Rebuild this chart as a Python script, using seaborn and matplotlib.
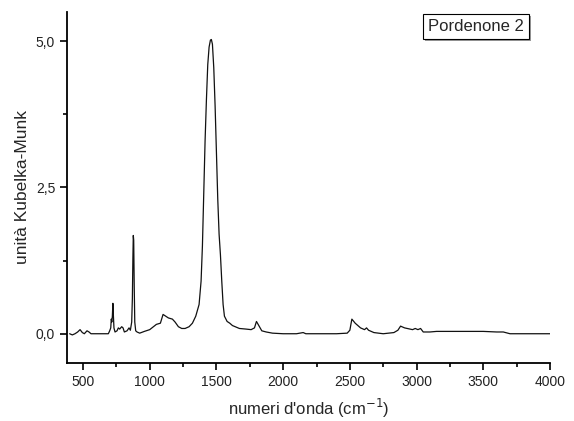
import pandas as pd
import matplotlib.pyplot as plt
import matplotlib.patheffects as pe
from matplotlib.ticker import MultipleLocator, FixedLocator, FixedFormatter
import seaborn as sns

# spectrum (wavenumber, Kubelka-Munk units)
wavenumber = [
    400, 420, 440, 460, 478, 495, 510, 530, 545, 560, 600, 650, 690,
    700, 708, 712, 716, 720, 724, 728, 732, 740, 755, 765, 775, 790, 800,
    810, 830, 845, 855, 865, 870, 874, 877, 880, 884, 888, 895, 905, 925,
    960, 1000, 1050, 1080, 1100, 1120, 1140, 1170, 1190, 1215, 1240, 1265,
    1295, 1320, 1345, 1370, 1385, 1395, 1405, 1415, 1425, 1435, 1445, 1455,
    1462, 1470, 1480, 1490, 1500, 1510, 1520, 1530, 1540, 1550, 1560, 1580,
    1600, 1620, 1672, 1720, 1760, 1785, 1800, 1815, 1840, 1873, 1920, 2000,
    2100, 2150, 2170, 2250, 2400, 2480, 2500, 2515, 2540, 2580, 2610, 2625,
    2640, 2680, 2750, 2830, 2860, 2880, 2910, 2950, 2970, 2990, 3010, 3030,
    3050, 3100, 3150, 3300, 3500, 3600, 3650, 3700, 3800, 4000,
]
intensity = [
    0.00, -0.02, 0.00, 0.03, 0.07, 0.02, 0.00, 0.05, 0.03, 0.00, 0.00, 0.00, 0.00,
    0.05, 0.10, 0.25, 0.20, 0.30, 0.52, 0.30, 0.10, 0.03, 0.05, 0.10, 0.08, 0.12, 0.10,
    0.03, 0.05, 0.10, 0.06, 0.20, 0.60, 1.30, 1.68, 1.60, 0.80, 0.20, 0.05, 0.03, 0.01,
    0.04, 0.07, 0.16, 0.18, 0.33, 0.30, 0.27, 0.25, 0.20, 0.12, 0.09, 0.09,
    0.12, 0.18, 0.30, 0.50, 0.90, 1.50, 2.40, 3.30, 4.00, 4.60, 4.90, 5.02,
    5.03, 4.95, 4.55, 3.90, 3.10, 2.30, 1.70, 1.35, 0.90, 0.50, 0.30, 0.21,
    0.18, 0.14, 0.09, 0.08, 0.07, 0.10, 0.21, 0.15, 0.05, 0.03, 0.01, 0.00,
    0.00, 0.02, 0.00, 0.00, 0.00, 0.01, 0.06, 0.25, 0.18, 0.10, 0.07, 0.10,
    0.06, 0.02, 0.00, 0.02, 0.06, 0.13, 0.10, 0.08, 0.07, 0.09, 0.07, 0.09,
    0.03, 0.03, 0.04, 0.04, 0.04, 0.03, 0.03, 0.00, 0.00, 0.00,
]
df = pd.DataFrame({'wn': wavenumber, 'km': intensity})

sns.set_style('white')
plt.rcParams['font.family'] = ['Liberation Sans', 'DejaVu Sans']

fig = plt.figure(figsize=(5.74, 4.21), dpi=100)
ax = fig.add_axes([0.1167, 0.1378, 0.8415, 0.8337])
sns.lineplot(data=df, x='wn', y='km', color='#111111', lw=0.9, ax=ax)

ax.set_xlim(380, 4000)
ax.set_ylim(-0.5, 5.5)
ax.xaxis.set_major_locator(MultipleLocator(500))
ax.xaxis.set_minor_locator(MultipleLocator(250))
ax.yaxis.set_major_locator(FixedLocator([0, 2.5, 5]))
ax.yaxis.set_major_formatter(FixedFormatter(['0,0', '2,5', '5,0']))
ax.yaxis.set_minor_locator(FixedLocator([1.25, 3.75]))
ax.tick_params(which='both', direction='out', color='black', labelsize=10,
               labelcolor='#222222', left=True, bottom=True)
ax.tick_params(which='major', length=5, width=1.2)
ax.tick_params(which='minor', length=3, width=1.2)

for s in ['top', 'right']:
    ax.spines[s].set_visible(False)
for s in ['left', 'bottom']:
    ax.spines[s].set_color('black')
    ax.spines[s].set_linewidth(1.3)

ax.set_xlabel("numeri d'onda (cm$^{-1}$)", fontsize=12, labelpad=6)
ax.set_ylabel('unità Kubelka-Munk', fontsize=12.5, labelpad=4)

t = ax.text(0.847, 0.96, 'Pordenone 2', transform=ax.transAxes, fontsize=12,
            ha='center', va='center',
            bbox=dict(boxstyle='square,pad=0.3', fc='white', ec='black', lw=0.8))
t.get_bbox_patch().set_path_effects(
    [pe.SimplePatchShadow(offset=(1.5, -1.5), shadow_rgbFace='gray', alpha=0.8),
     pe.Normal()])

fig.savefig('out.png', dpi=100)
